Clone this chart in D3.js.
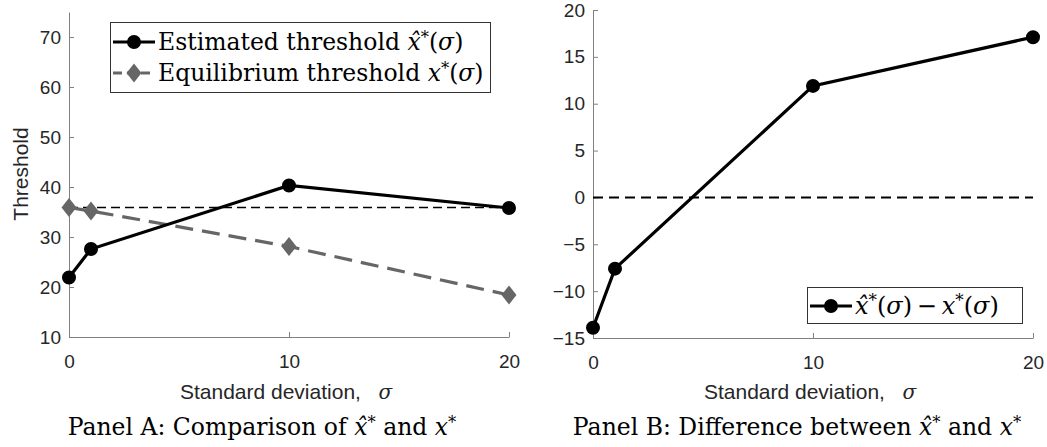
<!DOCTYPE html>
<html>
<head>
<meta charset="utf-8">
<script src="https://cdn.jsdelivr.net/npm/d3@7"></script>
<style>
  body { margin: 0; background: #fff; }
  svg { display: block; }
  .tick text { font-family: "Liberation Sans", Arial, sans-serif; font-size: 19px; fill: #262626; }
  .axis path, .axis line { stroke: #808080; stroke-width: 1; }
  .label { font-family: "Liberation Sans", Arial, sans-serif; font-size: 21px; fill: #262626; }
  .serif { font-family: "DejaVu Serif", "Liberation Serif", serif; fill: #000; }
  .math { font-style: italic; }
</style>
</head>
<body>
<div id="chart"></div>
<script>
// values
const sigma = [0, 1, 10, 20];
const estimated = [21.9, 27.6, 40.3, 35.8];
const equilibrium = [35.9, 35.2, 28.1, 18.4];
const difference = [-13.9, -7.6, 11.9, 17.1];
const refLevelA = 35.9;
const refLevelB = 0;
const xTicks = [0, 10, 20];
const yTicksA = [10, 20, 30, 40, 50, 60, 70];
const yTicksB = [-15, -10, -5, 0, 5, 10, 15, 20];

(function() {

  let svg = d3.select('#chart')
    .append('svg')
    .attr('width', 1047)
    .attr('height', 447);

  // Panel A
  let panelA = makePanel({
    left: 69, right: 509, top: 12, bottom: 337,
    yDomain: [10, 75], yTicks: yTicksA
  });
  drawRef(panelA, refLevelA, '9,5', 1.5);
  drawSeries(panelA, equilibrium, '#666666', '18,9', 'diamond');
  drawSeries(panelA, estimated, '#000000', null, 'circle');

  panelA.g.append('text')
    .attr('class', 'label')
    .attr('font-size', 23)
    .attr('transform', 'translate(28,174) rotate(-90)')
    .attr('text-anchor', 'middle')
    .text('Threshold');
  xLabel(panelA, 286);
  title(panelA, 262, ['Panel A: Comparison of ']);

  let legA = svg.append('g');
  legA.append('rect')
    .attr('x', 110.5).attr('y', 22.5)
    .attr('width', 380).attr('height', 70)
    .attr('fill', '#fff').attr('stroke', '#333').attr('stroke-width', 1);
  legendRow(legA, 113, 42, '#000', null, 'circle', 23.5, [
    ['Estimated threshold ', null], ['x\u0302', 'math'], ['*', 'sup'], ['(', null], ['\u03c3', 'math'], [')', null]
  ]);
  legendRow(legA, 113, 73, '#666666', '9,5', 'diamond', 23.5, [
    ['Equilibrium threshold ', null], ['x', 'math'], ['*', 'sup'], ['(', null], ['\u03c3', 'math'], [')', null]
  ]);

  // Panel B
  let panelB = makePanel({
    left: 593, right: 1033, top: 10, bottom: 338,
    yDomain: [-15, 20], yTicks: yTicksB
  });
  drawRef(panelB, refLevelB, '10,6', 2);
  drawSeries(panelB, difference, '#000000', null, 'circle');
  xLabel(panelB, 810);
  title(panelB, 797, ['Panel B: Difference between ']);

  let legB = svg.append('g');
  legB.append('rect')
    .attr('x', 807.5).attr('y', 287.5)
    .attr('width', 215).attr('height', 36)
    .attr('fill', '#fff').attr('stroke', '#333').attr('stroke-width', 1);
  legendRow(legB, 810, 306, '#000', null, 'circle', 24, [
    ['x\u0302', 'math'], ['*', 'sup'], ['(', null], ['\u03c3', 'math'], [')\u2009\u2212\u2009', null],
    ['x', 'math'], ['*', 'sup'], ['(', null], ['\u03c3', 'math'], [')', null]
  ]);

  function makePanel(o) {
    let x = d3.scaleLinear().domain([0, 20]).range([o.left, o.right]);
    let y = d3.scaleLinear().domain(o.yDomain).range([o.bottom, o.top]);
    let g = svg.append('g');
    g.append('g')
      .attr('class', 'axis')
      .attr('transform', `translate(0,${o.bottom})`)
      .call(d3.axisBottom(x).tickValues(xTicks).tickSizeInner(-5).tickSizeOuter(0).tickPadding(14))
      .call(s => s.selectAll('.tick text').attr('dy', '0.9em'));
    g.append('g')
      .attr('class', 'axis')
      .attr('transform', `translate(${o.left},0)`)
      .call(d3.axisLeft(y).tickValues(o.yTicks).tickSizeInner(-5).tickSizeOuter(0).tickPadding(8));
    g.selectAll('.domain').attr('stroke', '#808080');
    return { x, y, g, o };
  }

  function drawRef(p, level, dash, width) {
    p.g.append('line')
      .attr('x1', p.x(0)).attr('x2', p.x(20))
      .attr('y1', p.y(level)).attr('y2', p.y(level))
      .attr('stroke', '#000')
      .attr('stroke-width', width)
      .attr('stroke-dasharray', dash);
  }

  function drawSeries(p, values, color, dash, marker) {
    let pts = sigma.map((s, i) => [s, values[i]]);
    let line = d3.line().x(d => p.x(d[0])).y(d => p.y(d[1]));
    p.g.append('path')
      .datum(pts)
      .attr('d', line)
      .attr('fill', 'none')
      .attr('stroke', color)
      .attr('stroke-width', 3.2)
      .attr('stroke-dasharray', dash);
    p.g.selectAll(null)
      .data(pts)
      .enter()
      .append('path')
      .attr('d', markerPath(marker))
      .attr('transform', d => `translate(${p.x(d[0])},${p.y(d[1])})`)
      .attr('fill', color);
  }

  function markerPath(marker) {
    if (marker === 'diamond') return 'M0,-9.5L7.5,0L0,9.5L-7.5,0Z';
    return d3.symbol(d3.symbolCircle, 154)();
  }

  function legendRow(g, x0, y0, color, dash, marker, size, parts) {
    g.append('line')
      .attr('x1', x0).attr('x2', x0 + 42)
      .attr('y1', y0).attr('y2', y0)
      .attr('stroke', color)
      .attr('stroke-width', 3.2)
      .attr('stroke-dasharray', dash);
    g.append('path')
      .attr('d', markerPath(marker))
      .attr('transform', `translate(${x0 + 21},${y0})`)
      .attr('fill', color);
    let t = g.append('text')
      .attr('class', 'serif')
      .attr('x', x0 + 45)
      .attr('y', y0 + 8)
      .attr('font-size', size);
    mathText(t, parts);
  }

  function mathText(t, parts) {
    parts.forEach(([s, kind]) => {
      let span = t.append('tspan').text(s);
      if (kind === 'math') span.attr('class', 'math');
      if (kind === 'sup') span.attr('baseline-shift', '45%').attr('font-size', '0.7em');
    });
  }

  function xLabel(p, cx) {
    let t = p.g.append('text')
      .attr('class', 'label')
      .attr('x', cx)
      .attr('y', 399)
      .attr('text-anchor', 'middle');
    t.append('tspan').text('Standard deviation,\u00a0\u00a0\u00a0');
    t.append('tspan')
      .attr('font-family', '"DejaVu Serif", serif')
      .attr('font-style', 'italic')
      .attr('font-size', 20)
      .text('\u03c3');
  }

  function title(p, cx, lead) {
    let t = p.g.append('text')
      .attr('class', 'serif')
      .attr('x', cx)
      .attr('y', 435)
      .attr('text-anchor', 'middle')
      .attr('font-size', 23.5);
    mathText(t, [
      [lead[0], null], ['x\u0302', 'math'], ['*', 'sup'], [' and ', null], ['x', 'math'], ['*', 'sup']
    ]);
  }

})();
</script>
</body>
</html>
